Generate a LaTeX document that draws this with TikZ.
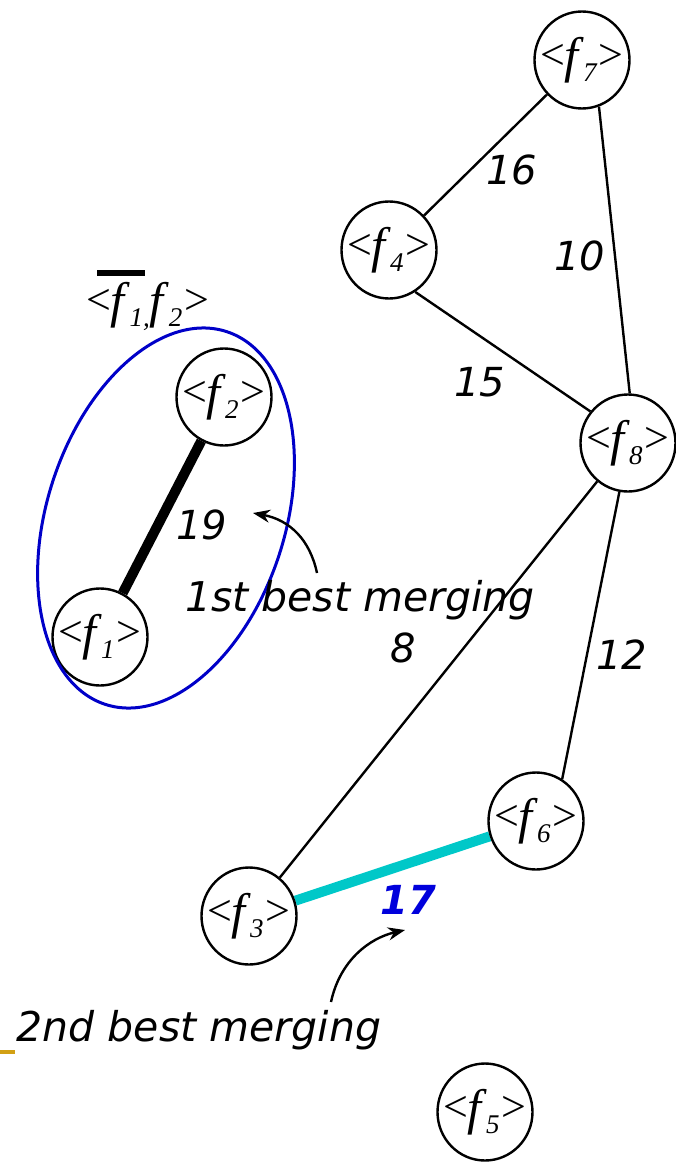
\documentclass[tikz,border=0pt]{standalone}
\usepackage{fontspec}
\setmainfont{Liberation Serif}
\newfontfamily\versans{DejaVu Sans}
\usetikzlibrary{shapes.geometric,arrows.meta}
\pgfdeclarelayer{bg}
\pgfsetlayers{bg,main}
\definecolor{tealc}{RGB}{0,200,200}
\definecolor{ringblue}{RGB}{0,0,200}
\definecolor{numblue}{RGB}{0,0,220}
\definecolor{stubc}{RGB}{210,160,20}
\newcommand{\angl}{\raisebox{3pt}{\fontsize{44}{44}\selectfont<}}
\newcommand{\angr}{\raisebox{3pt}{\fontsize{44}{44}\selectfont>}}
\newcommand{\bigf}{{\fontsize{50}{50}\selectfont\itshape f}\kern5pt}
\newcommand{\subs}[1]{\raisebox{-9pt}{\fontsize{27}{27}\selectfont\itshape #1}}
\newcommand{\fl}[1]{\makebox[0pt]{\angl\kern-1pt\bigf\subs{#1}\kern2pt\angr}}
\tikzset{
  fnode/.style={ellipse, draw, line width=2.4pt, inner sep=0pt, minimum width=95pt, minimum height=97pt, fill=white},
  edge/.style={line width=2.4pt},
  wlab/.style={font=\versans\itshape\fontsize{40}{40}\selectfont, inner sep=0pt},
  note/.style={font=\versans\itshape\fontsize{41}{41}\selectfont, inner sep=0pt},
  callout/.style={line width=2.4pt, -{Stealth[length=17pt,width=13pt]}}
}
\begin{document}
\begin{tikzpicture}[x=1pt,y=-1pt]
\useasboundingbox (0,0) rectangle (675,1164);
% nodes
\node[fnode] (f7) at (582,60) {\fl{7}};
\node[fnode] (f4) at (389,250) {\fl{4}};
\node[fnode] (f2) at (224,397) {\fl{2}};
\node[fnode] (f8) at (628,443) {\fl{8}};
\node[fnode] (f1) at (100,637) {\fl{1}};
\node[fnode] (f6) at (536,821) {\fl{6}};
\node[fnode] (f3) at (249,916) {\fl{3}};
\node[fnode] (f5) at (485,1112) {\fl{5}};
% edges
\begin{pgfonlayer}{bg}
\draw[edge] (f7) -- (f4);
\draw[edge] (f7.-70) -- (f8.88);
\draw[edge] (f4.-58) -- (f8.140);
\draw[edge] (f8) -- (f3);
\draw[edge] (f8.-100) -- (f6.58);
\draw[line width=10pt] (f1) -- (f2);
\draw[line width=10pt, tealc] (f3) -- (f6);
\end{pgfonlayer}
% group ellipse
\node[ellipse, draw=ringblue, line width=3pt, minimum width=392pt, minimum height=238pt, rotate=72] (grp) at (166,518) {};
% group label
\node[inner sep=0pt] (glab) at (148,306) {\angl\kern-1pt\bigf\subs{1,}\bigf\subs{2}\kern2pt\angr};
\fill (97,270) rectangle (145,276);
% weights
\node[wlab] (w16) at (512,170) {16};
\node[wlab] (w10) at (580,256) {10};
\node[wlab] (w15) at (480,382) {15};
\node[wlab] (w19) at (202,525) {19};
\node[wlab] (w8) at (403,648) {8};
\node[wlab] (w12) at (622,655) {12};
\node[wlab, font=\versans\bfseries\itshape\fontsize{40}{40}\selectfont, text=numblue] (w17) at (408,900) {17};
% notes
\node[note] (n1) at (360,600) {1st best merging};
\node[note] (n2) at (199,1030) {2nd best merging};
\coordinate (a1s) at (317,573);
\coordinate (a1e) at (253,513);
\draw[callout] (a1s) .. controls (310,540) and (290,520) .. (a1e);
\coordinate (a2s) at (331,1002);
\coordinate (a2e) at (405,930);
\draw[callout] (a2s) .. controls (340,960) and (370,938) .. (a2e);
% stub
\coordinate (s1) at (0,1052);
\coordinate (s2) at (15,1052);
\draw[stubc, line width=4pt] (s1) -- (s2);
\end{tikzpicture}
\end{document}
